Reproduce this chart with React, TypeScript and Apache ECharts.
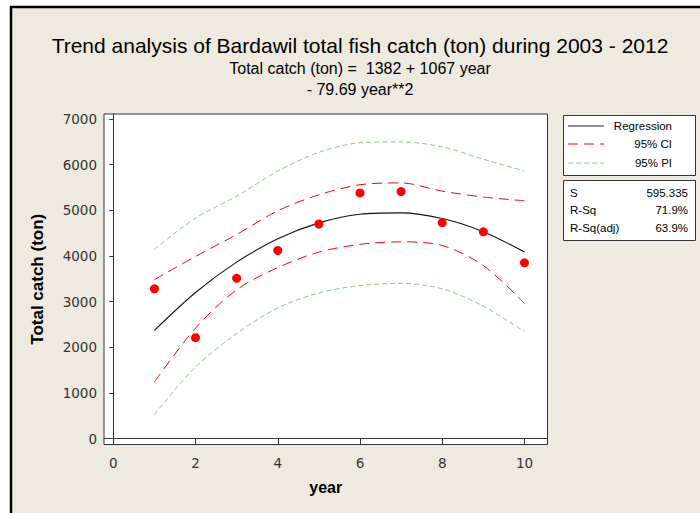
import React, { useEffect, useRef } from "react";
import * as echarts from "echarts";

const years = [1, 2, 3, 4, 5, 6, 7, 8, 9, 10];
const catchTon = [3280, 2210, 3510, 4120, 4700, 5380, 5410, 4730, 4530, 3850];
const regression = [2370, 3200, 3865, 4375, 4725, 4915, 4945, 4820, 4530, 4085];
const ciUpper = [3480, 3990, 4470, 4990, 5340, 5560, 5600, 5420, 5290, 5210];
const ciLower = [1240, 2420, 3260, 3745, 4085, 4255, 4310, 4230, 3790, 2960];
const piUpper = [4150, 4830, 5310, 5860, 6270, 6480, 6500, 6390, 6120, 5860];
const piLower = [530, 1570, 2300, 2860, 3190, 3350, 3400, 3280, 2900, 2340];
const xTicks = [0, 2, 4, 6, 8, 10];
const yTicks = [0, 1000, 2000, 3000, 4000, 5000, 6000, 7000];
const statLabels = ["S", "R-Sq", "R-Sq(adj)"];
const statValues = ["595.335", "71.9%", "63.9%"];

const pairs = (ys: number[]) => years.map((x, i) => [x, ys[i]]);

export default function App() {
  const ref = useRef<HTMLDivElement>(null);
  useEffect(() => {
    if (!ref.current) return;
    const chart = echarts.init(ref.current, null, { renderer: "svg" });
    const font = "Liberation Sans, Arial, sans-serif";
    const tickFont = "DejaVu Sans, Verdana, sans-serif";
    const beige = "#EEEAE0";
    const legendY = [126, 144, 163];
    const statY = [193, 210, 228];
    const graphic: any[] = [
      { type: "rect", z: 100, shape: { x: 0, y: 0, width: 10, height: 513 }, style: { fill: "#fff" } },
      { type: "rect", z: 100, shape: { x: 0, y: 0, width: 700, height: 6 }, style: { fill: "#fff" } },
      { type: "line", z: 101, shape: { x1: 11, y1: 6, x2: 11, y2: 513 }, style: { stroke: "#000", lineWidth: 2.5 } },
      { type: "line", z: 101, shape: { x1: 10, y1: 7, x2: 700, y2: 7 }, style: { stroke: "#000", lineWidth: 2.5 } },
      {
        type: "text", z: 100, x: 360, y: 45,
        style: { text: "Trend analysis of Bardawil total fish catch (ton) during 2003 - 2012", font: `21px ${font}`, fill: "#000", textAlign: "center", textVerticalAlign: "middle" },
      },
      {
        type: "text", z: 100, x: 360, y: 68,
        style: { text: "Total catch (ton) =  1382 + 1067 year", font: `16px ${font}`, fill: "#000", textAlign: "center", textVerticalAlign: "middle" },
      },
      {
        type: "text", z: 100, x: 360, y: 89,
        style: { text: "- 79.69 year**2", font: `16px ${font}`, fill: "#000", textAlign: "center", textVerticalAlign: "middle" },
      },
      { type: "rect", z: 100, shape: { x: 563.5, y: 115.5, width: 132, height: 60 }, style: { fill: "#fff", stroke: "#333", lineWidth: 1 } },
      { type: "rect", z: 100, shape: { x: 563.5, y: 180.5, width: 132, height: 60 }, style: { fill: "#fff", stroke: "#333", lineWidth: 1 } },
      { type: "line", z: 101, shape: { x1: 568, y1: legendY[0], x2: 604, y2: legendY[0] }, style: { stroke: "#222", lineWidth: 1 } },
      { type: "line", z: 101, shape: { x1: 568, y1: legendY[1], x2: 604, y2: legendY[1] }, style: { stroke: "#FF0000", lineWidth: 1, lineDash: [10, 6] } },
      { type: "line", z: 101, shape: { x1: 568, y1: legendY[2], x2: 604, y2: legendY[2] }, style: { stroke: "#7CD07C", lineWidth: 1, lineDash: [5, 3] } },
    ];
    ["Regression", "95% CI", "95% PI"].forEach((t, i) => {
      graphic.push({
        type: "text", z: 101, x: 672, y: legendY[i],
        style: { text: t, font: `11.5px ${font}`, fill: "#000", textAlign: "right", textVerticalAlign: "middle" },
      });
    });
    statLabels.forEach((t, i) => {
      graphic.push({
        type: "text", z: 101, x: 570, y: statY[i],
        style: { text: t, font: `11.5px ${font}`, fill: "#000", textAlign: "left", textVerticalAlign: "middle" },
      });
      graphic.push({
        type: "text", z: 101, x: 688, y: statY[i],
        style: { text: statValues[i], font: `11.5px ${font}`, fill: "#000", textAlign: "right", textVerticalAlign: "middle" },
      });
    });

    chart.setOption({
      animation: false,
      backgroundColor: beige,
      grid: {
        left: 104, top: 114, right: 152.5, bottom: 68.5,
        show: true, backgroundColor: "#fff", borderColor: "#333", borderWidth: 1,
      },
      xAxis: {
        type: "value", min: -0.226, max: 10.56,
        name: "year", nameLocation: "middle", nameGap: 35,
        nameTextStyle: { fontFamily: font, fontWeight: "bold", fontSize: 16, color: "#000" },
        axisLine: { show: true, lineStyle: { color: "#333" } },
        axisTick: { show: true, length: 6, customValues: xTicks, lineStyle: { color: "#333" } },
        axisLabel: { customValues: xTicks, fontFamily: tickFont, fontSize: 13.5, color: "#333", margin: 11, formatter: (v: number) => String(v) },
        splitLine: { show: false },
      },
      yAxis: {
        type: "value", min: -130, max: 7110,
        name: "Total catch (ton)", nameLocation: "middle", nameGap: 58, nameRotate: 90,
        nameTextStyle: { fontFamily: font, fontWeight: "bold", fontSize: 17, color: "#000" },
        axisLine: { show: true, lineStyle: { color: "#333" } },
        axisTick: { show: true, length: 4, customValues: yTicks, lineStyle: { color: "#333" } },
        axisLabel: { customValues: yTicks, fontFamily: tickFont, fontSize: 13.5, color: "#333", margin: 7, formatter: (v: number) => String(v) },
        splitLine: { show: false },
      },
      graphic,
      series: [
        {
          type: "line", name: "95% PI upper", data: pairs(piUpper), smooth: 0.3, showSymbol: false,
          lineStyle: { color: "#7CD07C", width: 1, type: [5, 3] },
        },
        {
          type: "line", name: "95% PI lower", data: pairs(piLower), smooth: 0.3, showSymbol: false,
          lineStyle: { color: "#7CD07C", width: 1, type: [5, 3] },
        },
        {
          type: "line", name: "95% CI upper", data: pairs(ciUpper), smooth: 0.3, showSymbol: false,
          lineStyle: { color: "#FF0000", width: 1, type: [10, 6] },
        },
        {
          type: "line", name: "95% CI lower", data: pairs(ciLower), smooth: 0.3, showSymbol: false,
          lineStyle: { color: "#FF0000", width: 1, type: [10, 6] },
        },
        {
          type: "line", name: "Regression", data: pairs(regression), smooth: 0.3, showSymbol: false,
          lineStyle: { color: "#111", width: 1.1 },
        },
        {
          type: "scatter", name: "Total catch", data: pairs(catchTon), symbol: "circle", symbolSize: 9,
          itemStyle: { color: "#FF0000", opacity: 1 }, z: 5,
        },
      ],
    });
    return () => chart.dispose();
  }, []);
  return (
    <div style={{ position: "fixed", left: 0, top: 0, width: 700, height: 513, background: "#fff" }}>
      <div ref={ref} style={{ width: 700, height: 513 }} />
    </div>
  );
}
